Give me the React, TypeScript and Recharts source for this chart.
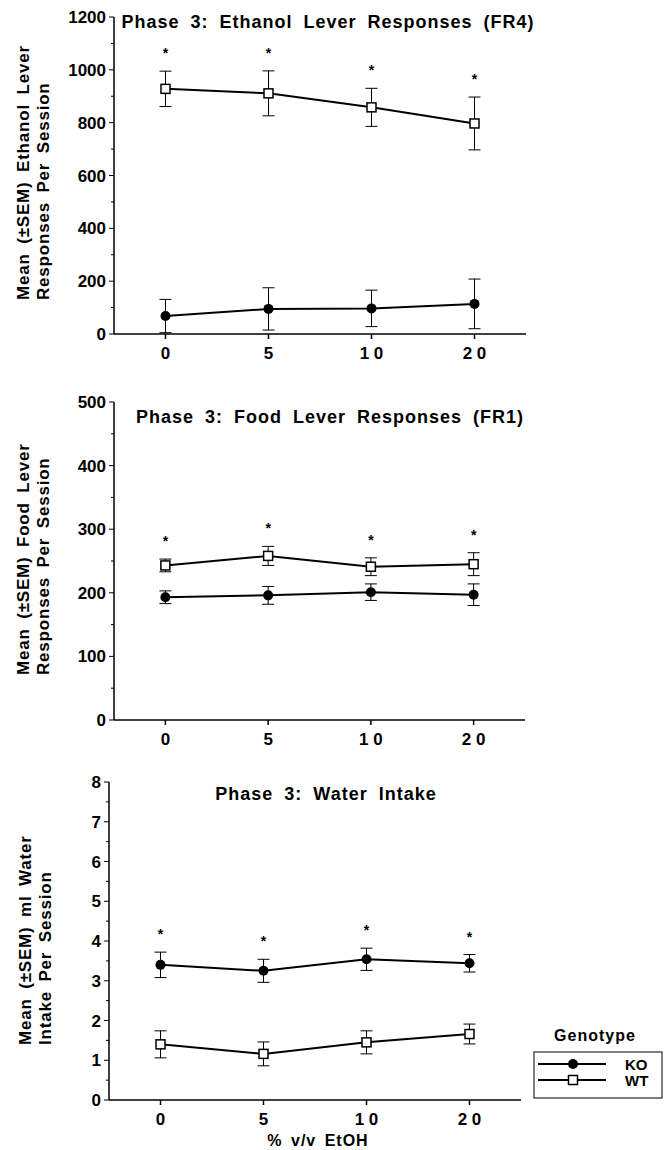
import { ErrorBar, Label, LabelList, Legend, Line, LineChart, XAxis, YAxis } from 'recharts'

const FONT = '"Liberation Sans", Arial, Helvetica, sans-serif'

// ethanol concentrations (% v/v), printed with the spaced digits of the original
const doses = ['0', '5', '1 0', '2 0']
const significant = [true, true, true, true]
const genotypes = ['KO', 'WT']

// Phase 3 ethanol lever responses (FR4)
const koEthanol = [68, 95, 97, 114]
const koEthanolSem = [63, 80, 69, 94]
const wtEthanol = [928, 911, 858, 797]
const wtEthanolSem = [67, 85, 72, 100]

// Phase 3 food lever responses (FR1)
const koFood = [193, 196, 201, 197]
const koFoodSem = [10, 14, 13, 17]
const wtFood = [243, 258, 241, 245]
const wtFoodSem = [10, 15, 14, 18]

// Phase 3 water intake (ml)
const koWater = [3.4, 3.25, 3.54, 3.44]
const koWaterSem = [0.32, 0.29, 0.28, 0.22]
const wtWater = [1.4, 1.16, 1.45, 1.66]
const wtWaterSem = [0.34, 0.3, 0.29, 0.25]

const ethanolTicks = [0, 100, 200, 300, 400, 500, 600, 700, 800, 900, 1000, 1100, 1200]
const ethanolLabels = [0, 200, 400, 600, 800, 1000, 1200]
const foodTicks = [0, 50, 100, 150, 200, 250, 300, 350, 400, 450, 500]
const foodLabels = [0, 100, 200, 300, 400, 500]
const waterTicks = [0, 0.5, 1, 1.5, 2, 2.5, 3, 3.5, 4, 4.5, 5, 5.5, 6, 6.5, 7, 7.5, 8]
const waterLabels = [0, 1, 2, 3, 4, 5, 6, 7, 8]

function buildRows(
  ko: number[],
  koSem: number[],
  wt: number[],
  wtSem: number[],
  upper: 'ko' | 'wt',
) {
  return doses.map((dose, i) => ({
    x: i,
    dose,
    ko: ko[i],
    koSem: koSem[i],
    wt: wt[i],
    wtSem: wtSem[i],
    starY: upper === 'wt' ? wt[i] + wtSem[i] : ko[i] + koSem[i],
    star: significant[i] ? '*' : '',
  }))
}

const textStyle = { fontFamily: FONT, fontWeight: 700, fill: '#000' }

const makeYTick = (labels: number[]) => (props: any) => {
  const { x, y, payload } = props
  const major = labels.includes(payload.value)
  return (
    <g>
      <line x1={x} x2={x - (major ? 5 : 3)} y1={y} y2={y} stroke="#000" strokeWidth={1} />
      {major && (
        <text x={x - 8} y={y} dy="0.355em" textAnchor="end" fontSize={17} {...textStyle}>
          {payload.value}
        </text>
      )}
    </g>
  )
}

const SquareDot = (props: any) => {
  const { cx, cy, index } = props
  if (cx == null || cy == null) return <g key={index} />
  return (
    <rect
      key={index}
      x={cx - 4.5}
      y={cy - 4.5}
      width={9}
      height={9}
      fill="#fff"
      stroke="#000"
      strokeWidth={1.5}
    />
  )
}

const renderStar = (props: any) => {
  const { x, y, value, index } = props
  if (!value) return null
  return (
    <text key={index} x={x} y={y - 13} textAnchor="middle" fontSize={14} {...textStyle}>
      {value}
    </text>
  )
}

const GenotypeLegend = (props: any) => {
  const payload = ((props.payload || []) as any[]).filter((e) => genotypes.includes(e.value))
  return (
    <svg width={136} height={80} style={{ display: 'block' }}>
      <text x={65} y={19} textAnchor="middle" fontSize={16} letterSpacing={1} {...textStyle}>
        Genotype
      </text>
      <rect x={4} y={30} width={128} height={46} fill="#fff" stroke="#000" strokeWidth={1} />
      {payload.map((entry, i) => {
        const y = 42 + i * 16
        const isKo = entry.value === 'KO'
        return (
          <g key={entry.value}>
            <line x1={8} x2={76} y1={y} y2={y} stroke="#000" strokeWidth={2} />
            {isKo ? (
              <circle cx={43} cy={y} r={5} fill="#000" />
            ) : (
              <rect x={38.5} y={y - 4.5} width={9} height={9} fill="#fff" stroke="#000" strokeWidth={1.5} />
            )}
            <text x={95} y={y + 5.5} fontSize={15} {...textStyle}>
              {entry.value}
            </text>
          </g>
        )
      })}
    </svg>
  )
}

interface PanelProps {
  top: number
  height: number
  margin: { top: number; right: number; bottom: number; left: number }
  rows: ReturnType<typeof buildRows>
  domain: [number, number]
  ticks: number[]
  labels: number[]
  title: string
  titleX: number
  titleY: number
  yLines: [string, string]
  yStart: number
  yLineX: [number, number]
  xAxisHeight: number
  xLabel?: string
  withLegend?: boolean
}

function Panel(p: PanelProps) {
  const titleBlock = () => (
    <g>
      <text
        x={p.titleX}
        y={p.titleY}
        textAnchor="middle"
        fontSize={18}
        letterSpacing={1}
        wordSpacing={5}
        {...textStyle}
      >
        {p.title}
      </text>
      <text
        transform={`translate(${p.yLineX[0]}, ${p.yStart}) rotate(-90)`}
        fontSize={17}
        letterSpacing={0.8}
        wordSpacing={4}
        {...textStyle}
      >
        {p.yLines[0]}
      </text>
      <text
        transform={`translate(${p.yLineX[1]}, ${p.yStart}) rotate(-90)`}
        fontSize={17}
        letterSpacing={0.8}
        wordSpacing={4}
        {...textStyle}
      >
        {p.yLines[1]}
      </text>
    </g>
  )

  return (
    <div style={{ position: 'absolute', left: 0, top: p.top }}>
      <LineChart width={670} height={p.height} data={p.rows} margin={p.margin}>
        <XAxis
          dataKey="x"
          type="number"
          domain={[-0.5, 3.5]}
          ticks={[0, 1, 2, 3]}
          tickFormatter={(v: number) => doses[v]}
          height={p.xAxisHeight}
          stroke="#000"
          strokeWidth={1.5}
          tickSize={5}
          tickMargin={8}
          tick={{ fontSize: 17, fontFamily: FONT, fontWeight: 700, fill: '#000' }}
        >
          {p.xLabel && (
            <Label
              content={() => (
                <text x={318} y={386} textAnchor="middle" fontSize={16} letterSpacing={1} wordSpacing={3} {...textStyle}>
                  {p.xLabel}
                </text>
              )}
            />
          )}
        </XAxis>
        <YAxis
          type="number"
          domain={p.domain}
          ticks={p.ticks}
          interval={0}
          width={60}
          stroke="#000"
          strokeWidth={1.5}
          tickLine={false}
          tickSize={0}
          tickMargin={0}
          tick={makeYTick(p.labels)}
        >
          <Label content={titleBlock} />
        </YAxis>
        <Line
          name="KO"
          dataKey="ko"
          stroke="#000"
          strokeWidth={2}
          dot={{ r: 5, fill: '#000', stroke: '#000', strokeWidth: 0 }}
          activeDot={false}
          isAnimationActive={false}
        >
          <ErrorBar dataKey="koSem" width={6} stroke="#000" strokeWidth={1} direction="y" />
        </Line>
        <Line
          name="WT"
          dataKey="wt"
          stroke="#000"
          strokeWidth={2}
          dot={SquareDot}
          activeDot={false}
          isAnimationActive={false}
        >
          <ErrorBar dataKey="wtSem" width={6} stroke="#000" strokeWidth={1} direction="y" />
        </Line>
        <Line
          name="sig"
          dataKey="starY"
          stroke="none"
          dot={false}
          activeDot={false}
          legendType="none"
          isAnimationActive={false}
        >
          <LabelList dataKey="star" content={renderStar} />
        </Line>
        {p.withLegend && (
          <Legend
            layout="horizontal"
            verticalAlign="middle"
            align="center"
            content={GenotypeLegend}
            wrapperStyle={{ position: 'absolute', left: 530, top: 262, width: 136, height: 80 }}
          />
        )}
      </LineChart>
    </div>
  )
}

export default function App() {
  return (
    <div
      style={{
        position: 'absolute',
        left: 0,
        top: 0,
        width: 670,
        height: 1150,
        background: '#fff',
      }}
    >
      <Panel
        top={0}
        height={370}
        margin={{ top: 17, right: 144, bottom: 6, left: 54 }}
        rows={buildRows(koEthanol, koEthanolSem, wtEthanol, wtEthanolSem, 'wt')}
        domain={[0, 1200]}
        ticks={ethanolTicks}
        labels={ethanolLabels}
        title="Phase 3: Ethanol Lever Responses (FR4)"
        titleX={328}
        titleY={28}
        yLines={['Mean (±SEM) Ethanol Lever', 'Responses Per Session']}
        yStart={300}
        yLineX={[29, 49]}
        xAxisHeight={30}
      />
      <Panel
        top={370}
        height={390}
        margin={{ top: 32, right: 145, bottom: 10, left: 54 }}
        rows={buildRows(koFood, koFoodSem, wtFood, wtFoodSem, 'wt')}
        domain={[0, 500]}
        ticks={foodTicks}
        labels={foodLabels}
        title="Phase 3: Food Lever Responses (FR1)"
        titleX={330}
        titleY={53}
        yLines={['Mean (±SEM) Food Lever', 'Responses Per Session']}
        yStart={305}
        yLineX={[29, 49]}
        xAxisHeight={30}
      />
      <Panel
        top={760}
        height={390}
        margin={{ top: 22, right: 149, bottom: 0, left: 49 }}
        rows={buildRows(koWater, koWaterSem, wtWater, wtWaterSem, 'ko')}
        domain={[0, 8]}
        ticks={waterTicks}
        labels={waterLabels}
        title="Phase 3: Water Intake"
        titleX={326}
        titleY={40}
        yLines={['Mean (±SEM) ml Water', 'Intake Per Session']}
        yStart={285}
        yLineX={[31, 51]}
        xAxisHeight={50}
        xLabel="% v/v EtOH"
        withLegend
      />
    </div>
  )
}
